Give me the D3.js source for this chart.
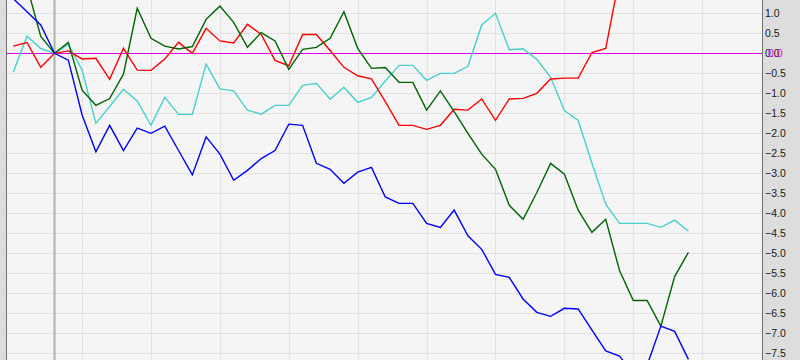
<!DOCTYPE html>
<html><head><meta charset="utf-8">
<script src="https://cdn.jsdelivr.net/npm/d3@7"></script>
<style>html,body{margin:0;padding:0;background:#f5f5f5;}svg{display:block;}</style>
</head><body>
<svg id="chart" width="800" height="360"></svg>
<script>
// ---- data ----
const xIndex = d3.range(50);
const redSeries = [0.18,0.27,-0.35,0,0.06,-0.14,-0.125,-0.65,0.125,-0.42,
  -0.425,-0.14,0.275,0.0,0.625,0.31,0.26,0.725,0.47,-0.175,
  -0.31,0.47,0.47,0.07,-0.35,-0.56,-0.64,-1.21,-1.8,-1.8,
  -1.9,-1.8,-1.4,-1.42,-1.14,-1.675,-1.14,-1.125,-1.0,-0.64,
  -0.62,-0.62,0.02,0.125,1.9,null,null,null,null,null];
const cyanSeries = [-0.47,0.43,0.12,0,0.225,-0.42,-1.75,-1.33,-0.9,-1.19,
  -1.8,-1.1,-1.525,-1.525,-0.27,-0.89,-0.94,-1.42,-1.52,-1.3,
  -1.3,-0.8,-0.75,-1.15,-0.85,-1.225,-1.1,-0.69,-0.3,-0.3,
  -0.675,-0.5,-0.5,-0.325,0.71,1.0,0.09,0.115,-0.15,-0.6,
  -1.43,-1.68,-2.75,-3.77,-4.25,-4.25,-4.25,-4.35,-4.17,-4.45];
const greenSeries = [null,1.68,0.42,0,0.27,-0.92,-1.3,-1.13,-0.52,1.125,
  0.375,0.18,0.11,0.17,0.85,1.18,0.775,0.15,0.52,0.31,
  -0.4,0.1,0.15,0.375,1.04,0.125,-0.375,-0.355,-0.725,-0.725,
  -1.42,-0.94,-1.46,-2.0,-2.52,-2.9,-3.8,-4.15,-3.48,-2.75,
  -3.02,-3.92,-4.475,-4.15,-5.43,-6.18,-6.18,-6.82,-5.58,-4.975];
const blueSeries = [1.37,1.04,0.71,0,-0.17,-1.54,-2.46,-1.8,-2.43,-1.87,
  -2.0,-1.82,-2.43,-3.04,-2.09,-2.52,-3.175,-2.925,-2.63,-2.43,
  -1.77,-1.8,-2.75,-2.9,-3.25,-2.97,-2.85,-3.59,-3.75,-3.75,
  -4.25,-4.35,-3.92,-4.56,-4.9,-5.525,-5.6,-6.14,-6.475,-6.575,
  -6.375,-6.39,-6.92,-7.44,-7.57,-8.0,-7.8,-6.82,-6.95,-7.65];
const xGridTicks = [5,10,15,20,25,30,35,40,45,50];
const yTickValues = [1.0,0.5,0.0,-0.5,-1.0,-1.5,-2.0,-2.5,-3.0,-3.5,-4.0,-4.5,-5.0,-5.5,-6.0,-6.5,-7.0,-7.5];
const baseIndex = 3;
const baseValue = 0;
const seriesList = [
  {name:"cyan", values: cyanSeries, color:"#48d1cc"},
  {name:"red", values: redSeries, color:"#ff0000"},
  {name:"green", values: greenSeries, color:"#006400"},
  {name:"blue", values: blueSeries, color:"#0000ff"}
];

// ---- layout ----
const W = 800, H = 360;
const plotL = 7, plotR = 762;
const x = d3.scaleLinear().domain([0,49]).range([13.2, 13.2 + 13.78*49]);
const y = d3.scaleLinear().domain([-7.5, 1.0]).range([353.33, 13.33]);

const svg = d3.select("#chart");
svg.append("rect").attr("x",0).attr("y",0).attr("width",W).attr("height",H).attr("fill","#f5f5f5");

// clip
svg.append("clipPath").attr("id","plotclip").append("rect")
  .attr("x",plotL).attr("y",0).attr("width",plotR-plotL).attr("height",H);

const g = svg.append("g").attr("clip-path","url(#plotclip)");

// grid
g.selectAll("line.hgrid").data(yTickValues).enter().append("line")
  .attr("class","hgrid")
  .attr("x1",plotL).attr("x2",plotR)
  .attr("y1",d=>Math.round(y(d))+0.5).attr("y2",d=>Math.round(y(d))+0.5)
  .attr("stroke","#e2e2e2").attr("stroke-width",1);
g.selectAll("line.vgrid").data(xGridTicks).enter().append("line")
  .attr("class","vgrid")
  .attr("x1",d=>Math.round(x(d))+0.5).attr("x2",d=>Math.round(x(d))+0.5)
  .attr("y1",0).attr("y2",H)
  .attr("stroke","#e2e2e2").attr("stroke-width",1);

// reference lines
g.append("line")
  .attr("x1",x(baseIndex)).attr("x2",x(baseIndex))
  .attr("y1",0).attr("y2",H)
  .attr("stroke","#a3b9a3").attr("stroke-width",2);
g.append("line")
  .attr("x1",plotL).attr("x2",plotR)
  .attr("y1",Math.round(y(baseValue))+0.5).attr("y2",Math.round(y(baseValue))+0.5)
  .attr("stroke","#e000e0").attr("stroke-width",1);

// series
const line = d3.line()
  .defined(d=>d[1]!==null)
  .x(d=>x(d[0])).y(d=>y(d[1]));
seriesList.forEach(s=>{
  g.append("path")
    .datum(xIndex.map(i=>[i, s.values[i]]))
    .attr("d", line)
    .attr("fill","none")
    .attr("stroke", s.color)
    .attr("stroke-width",1.4)
    .attr("stroke-linejoin","miter");
});

// side strips
svg.append("rect").attr("x",0).attr("y",0).attr("width",6).attr("height",H).attr("fill","#dcdcdc");
svg.append("line").attr("x1",6.5).attr("x2",6.5).attr("y1",0).attr("y2",H).attr("stroke","#6e7272").attr("stroke-width",1);
svg.append("rect").attr("x",plotR+1).attr("y",0).attr("width",W-plotR-1).attr("height",H).attr("fill","#dddddd");
svg.append("line").attr("x1",plotR+0.5).attr("x2",plotR+0.5).attr("y1",0).attr("y2",H).attr("stroke","#6e7272").attr("stroke-width",1);

// right axis
const axis = d3.axisRight(y).tickValues(yTickValues).tickFormat(d3.format(".1f")).tickSize(0).tickPadding(3);
const ag = svg.append("g").attr("transform",`translate(${plotR},0)`).call(axis);
ag.select(".domain").remove();
ag.selectAll("text").attr("font-family","'Liberation Sans', Arial, sans-serif").attr("font-size","10.5px").attr("fill","#1a1a1a");

// current value marker label
svg.append("text")
  .attr("x", plotR + 6).attr("y", y(baseValue)).attr("dy","0.32em")
  .attr("font-family","'Liberation Sans', Arial, sans-serif").attr("font-size","10.5px")
  .attr("fill","#e000e0").text(d3.format(".1f")(baseValue));
</script>
</body></html>
